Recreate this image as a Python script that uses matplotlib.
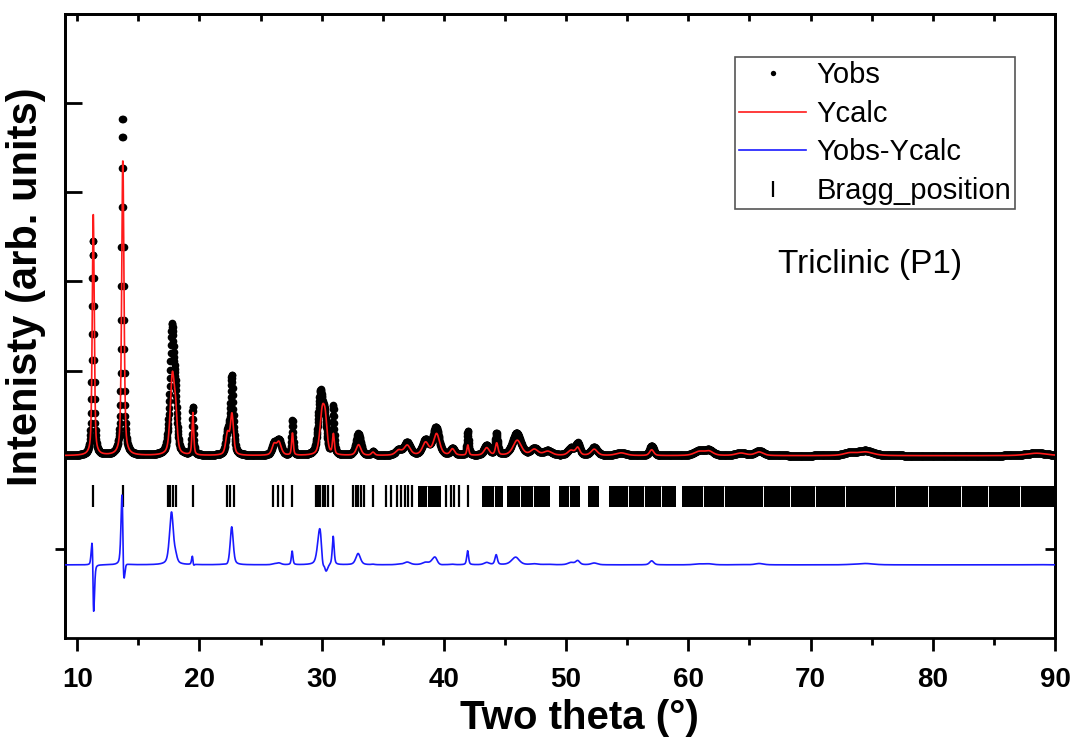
import numpy as np
import matplotlib
matplotlib.use("Agg")
from matplotlib import pyplot as plt
from matplotlib.ticker import MultipleLocator, NullLocator

plt.rcParams["font.family"] = ["Liberation Sans", "DejaVu Sans"]

peak_pos = [11.29, 13.71, 17.75, 18.05, 19.45, 22.30, 22.65, 26.10, 26.50, 27.60,
            29.90, 30.25, 30.95, 33.00, 34.20, 36.30, 37.00, 38.50, 39.35, 40.70,
            41.95, 43.50, 44.30, 45.95, 47.40, 48.50, 50.40, 50.95, 52.30, 54.50,
            57.00, 60.90, 61.70, 64.30, 65.80, 73.20, 74.50, 88.50]
calc_pos = [11.31, 13.73, 17.78, 18.05, 19.46, 22.30, 22.66, 26.10, 26.50, 27.61,
            30.05, 30.30, 30.96, 33.02, 34.20, 36.30, 37.00, 38.50, 39.40, 40.70,
            41.96, 43.50, 44.32, 46.00, 47.40, 48.50, 50.40, 50.95, 52.30, 54.50,
            57.00, 60.90, 61.70, 64.30, 65.80, 73.20, 74.50, 88.50]
peak_fwhm = [0.20, 0.22, 0.40, 0.30, 0.16, 0.35, 0.30, 0.40, 0.45, 0.16,
             0.45, 0.35, 0.18, 0.45, 0.30, 0.60, 0.60, 0.60, 0.60, 0.40,
             0.18, 0.50, 0.25, 0.80, 0.70, 0.80, 0.60, 0.40, 0.60, 1.00,
             0.40, 1.00, 0.80, 1.00, 0.80, 1.20, 1.50, 2.00]
calc_fwhm = [0.19, 0.22, 0.40, 0.30, 0.16, 0.35, 0.30, 0.40, 0.45, 0.16,
             0.45, 0.35, 0.18, 0.45, 0.30, 0.60, 0.60, 0.60, 0.60, 0.40,
             0.18, 0.50, 0.25, 0.80, 0.70, 0.80, 0.60, 0.40, 0.60, 1.00,
             0.40, 1.00, 0.80, 1.00, 0.80, 1.20, 1.50, 2.00]
obs_height = [4850, 7600, 2850, 900, 1080, 450, 1750, 250, 330, 790,
              1380, 700, 1080, 490, 80, 120, 280, 330, 620, 150,
              540, 220, 480, 500, 150, 100, 160, 260, 180, 60,
              220, 110, 110, 60, 110, 60, 110, 60]
calc_height = [5450, 6650, 1750, 750, 950, 480, 900, 230, 290, 500,
               950, 600, 450, 240, 70, 110, 220, 280, 480, 140,
               230, 170, 270, 340, 130, 90, 110, 170, 140, 60,
               130, 90, 90, 55, 80, 55, 80, 55]
background = 90

# Bragg reflections: single ticks and the dense blocks at high angle
bragg_ticks = [11.29, 13.74, 17.40, 17.60, 17.80, 18.05, 19.45, 22.25, 22.50, 22.80,
               26.05, 26.40, 26.85, 27.60, 29.50, 29.70, 29.90, 30.10, 30.30, 30.55,
               30.95, 32.60, 32.80, 33.00, 33.20, 33.50, 34.20, 35.30, 35.70, 36.20,
               36.50, 36.80, 37.10, 37.40, 40.20, 40.55, 40.85, 41.20, 41.95]
bragg_blocks = [(37.85, 39.75), (43.15, 44.85), (45.15, 48.65), (49.45, 51.10),
                (51.80, 52.70), (53.50, 59.00), (59.50, 90.0)]
# thin white gaps seen inside the dense blocks
bragg_gaps = [38.6, 44.1, 46.2, 47.3, 50.2, 55.1, 56.4, 57.8, 61.2, 62.9, 66.1,
              68.3, 70.4, 72.8, 76.9, 79.6, 82.3, 84.5, 87.1]

diff_offset = -2360
bragg_level = -820


def profile(x, pos, fwhm, height):
    y = np.full_like(x, background, dtype=float)
    for p, w, h in zip(pos, fwhm, height):
        lor = 1.0 / (1.0 + ((x - p) / (w / 2)) ** 2)
        gau = np.exp(-4 * np.log(2) * ((x - p) / w) ** 2)
        y += h * (0.5 * lor + 0.5 * gau)
    return y


two_theta = np.arange(9.0, 90.0001, 0.02)
y_obs = profile(two_theta, peak_pos, peak_fwhm, obs_height)
y_calc = profile(two_theta, calc_pos, calc_fwhm, calc_height)
y_diff = y_obs - y_calc + diff_offset

fig = plt.figure(figsize=(10.73, 7.42), dpi=100)
ax = fig.add_axes([0.0606, 0.1402, 0.9226, 0.8409])

ax.plot(two_theta, y_obs, "o", color="black", markersize=5.5, markeredgewidth=0,
        label="Yobs", zorder=2)
ax.plot(two_theta, y_calc, "-", color="#ff1a1a", lw=1.2, label="Ycalc", zorder=3)
ax.plot(two_theta, y_diff, "-", color="#1a1aff", lw=1.2, label="Yobs-Ycalc", zorder=3)
ax.plot(bragg_ticks, [bragg_level] * len(bragg_ticks), "|", color="black",
        markersize=16, markeredgewidth=1.6, label="Bragg_position")
for start, end in bragg_blocks:
    ax.broken_barh([(start, end - start)], (bragg_level - 240, 480),
                   facecolor="black", edgecolor="none")
ax.vlines(bragg_gaps, bragg_level - 240, bragg_level + 240, color="white", lw=0.7)

ax.set_xlim(9, 90)
ax.set_ylim(-4000, 10000)

for s in ax.spines.values():
    s.set_linewidth(2)

ax.xaxis.set_major_locator(MultipleLocator(10))
ax.xaxis.set_minor_locator(MultipleLocator(5))
ax.tick_params(axis="x", which="major", direction="out", length=9, width=2,
               labelsize=20, pad=12)
ax.tick_params(axis="x", which="minor", direction="out", length=5, width=2)
for lab in ax.get_xticklabels():
    lab.set_fontweight("bold")

top = ax.secondary_xaxis("top")
top.xaxis.set_major_locator(NullLocator())
top.xaxis.set_minor_locator(MultipleLocator(5))
top.tick_params(which="minor", direction="in", length=5, width=2)
top.spines["top"].set_linewidth(2)

ax.set_yticks([2000, 4000, 6000, 8000])
ax.tick_params(axis="y", direction="in", length=12, width=2, labelleft=False)
left2 = ax.secondary_yaxis("left")
left2.set_yticks([-2000])
left2.tick_params(direction="out", length=7, width=2, labelleft=False)
left2.spines["left"].set_linewidth(2)
right2 = ax.secondary_yaxis("right")
right2.set_yticks([-2000])
right2.tick_params(direction="in", length=7, width=2, labelright=False)
right2.spines["right"].set_linewidth(2)

ax.set_xlabel("Two theta (\u00b0)", fontsize=29, fontweight="bold")
ax.xaxis.set_label_coords(0.52, -0.098)
ax.set_ylabel("Intenisty (arb. units)", fontsize=30, fontweight="bold")
ax.yaxis.set_label_coords(-0.019, 0.5625)

ax.text(0.813, 0.598, "Triclinic (P1)", transform=ax.transAxes, fontsize=24,
        ha="center", va="center")

leg = ax.legend(loc="upper right", bbox_to_anchor=(0.96, 0.931), fontsize=21,
                frameon=True, fancybox=False, framealpha=1, edgecolor="#555555",
                handlelength=2.3, handletextpad=0.35, labelspacing=0.36,
                borderpad=0.15, borderaxespad=0, markerscale=0.7)
leg.get_frame().set_linewidth(1.2)

fig.savefig("out.png", dpi=100)
